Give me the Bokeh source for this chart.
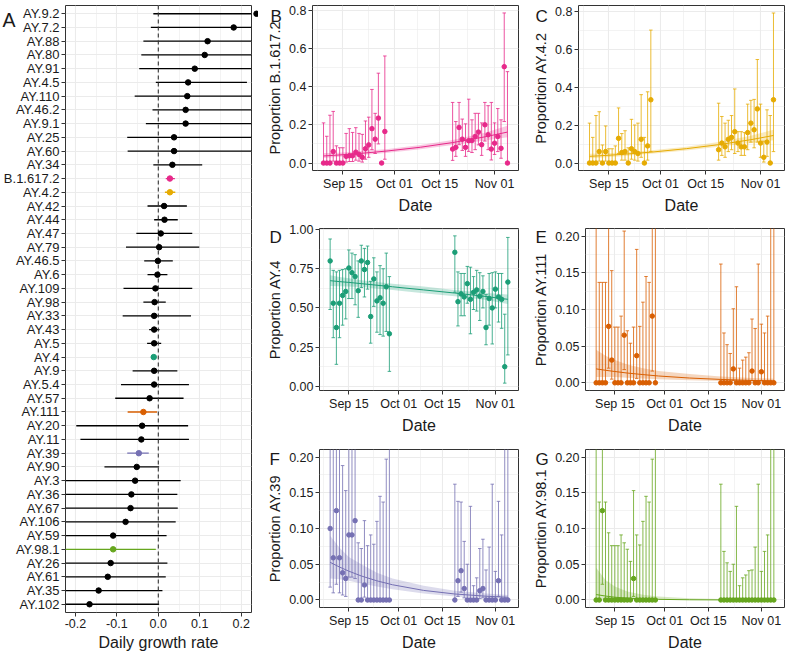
import pandas as pd
from bokeh.plotting import figure
from bokeh.models import (FactorRange, Range1d, FixedTicker, PrintfTickFormatter,
                          DatetimeTickFormatter, Span, ColumnDataSource)
from bokeh.core.properties import value
from bokeh.layouts import row, column
from bokeh.embed import file_html
from bokeh.resources import INLINE

FONT = "Liberation Sans"
TXT = "#1a1a1a"
GRID = "#EBEBEB"
EDGE = "#333333"
TICK_SIZE = "12.5px"
XTITLE_SIZE = "16px"
YTITLE_SIZE = "14.5px"

# ---------------- Panel A data ----------------
lineages = ["AY.9.2", "AY.7.2", "AY.88", "AY.80", "AY.91", "AY.4.5", "AY.110", "AY.46.2",
            "AY.9.1", "AY.25", "AY.60", "AY.34", "B.1.617.2", "AY.4.2", "AY.42", "AY.44",
            "AY.47", "AY.79", "AY.46.5", "AY.6", "AY.109", "AY.98", "AY.33", "AY.43", "AY.5",
            "AY.4", "AY.9", "AY.5.4", "AY.57", "AY.111", "AY.20", "AY.11", "AY.39", "AY.90",
            "AY.3", "AY.36", "AY.67", "AY.106", "AY.59", "AY.98.1", "AY.26", "AY.61", "AY.35",
            "AY.102"]
growth_rate = [0.237, 0.182, 0.119, 0.112, 0.088, 0.072, 0.070, 0.066, 0.066, 0.038, 0.038,
               0.034, 0.028, 0.028, 0.014, 0.015, 0.006, 0.002, -0.001, -0.002, -0.007, -0.009,
               -0.010, -0.010, -0.010, -0.011, -0.010, -0.010, -0.021, -0.036, -0.039, -0.041,
               -0.047, -0.052, -0.056, -0.065, -0.067, -0.079, -0.109, -0.109, -0.115, -0.122,
               -0.144, -0.166]
growth_lo = [-0.012, -0.018, -0.036, -0.041, -0.046, -0.006, -0.057, -0.014, -0.030, -0.075,
             -0.074, -0.012, 0.018, 0.016, -0.026, -0.010, -0.053, -0.078, -0.034, -0.026,
             -0.084, -0.036, -0.086, -0.022, -0.027, -0.016, -0.062, -0.090, -0.104, -0.074,
             -0.198, -0.188, -0.075, -0.130, -0.5, -0.5, -0.5, -0.5, -0.5, -0.5, -0.5, -0.5,
             -0.5, -0.5]
growth_hi = [0.6, 0.6, 0.5, 0.5, 0.5, 0.214, 0.5, 0.5, 0.5, 0.5, 0.5, 0.106, 0.040, 0.041,
             0.069, 0.047, 0.082, 0.099, 0.035, 0.022, 0.082, 0.018, 0.079, 0.003, 0.007, -0.006,
             0.046, 0.074, 0.061, -0.003, 0.072, 0.074, -0.023, 0.002, 0.054, 0.046, 0.047,
             0.042, 0.020, -0.006, 0.022, 0.018, 0.010, 0.002]
highlight_colors = {"B.1.617.2": "#E7298A", "AY.4.2": "#E6AB02", "AY.4": "#1B9E77",
                    "AY.111": "#D95F02", "AY.39": "#7570B3", "AY.98.1": "#66A61E"}
growth_ticks = [-0.2, -0.1, 0.0, 0.1, 0.2]
growth_minor = [-0.15, -0.05, 0.05, 0.15]
growth_start, growth_end = -0.224, 0.225

# ---------------- Panels B-G data ----------------
sample_dates = (list(pd.date_range("2021-09-09", "2021-09-28", freq="D")) +
                list(pd.date_range("2021-10-19", "2021-11-05", freq="D")))
fit_dates = [pd.Timestamp(s) for s in ["2021-09-09", "2021-09-12", "2021-09-15", "2021-09-19",
                                       "2021-09-24", "2021-09-29", "2021-10-09", "2021-10-19",
                                       "2021-10-29", "2021-11-05"]]
date_ticks = [pd.Timestamp(s) for s in ["2021-09-15", "2021-10-01", "2021-10-15", "2021-11-01"]]
date_minor = [pd.Timestamp(s) for s in ["2021-09-07", "2021-09-23", "2021-10-08",
                                        "2021-10-23 12:00"]]
date_start = pd.Timestamp("2021-09-05 14:00")
date_end = pd.Timestamp("2021-11-08 10:00")


def ms(t):
    return int(t.timestamp() * 1000)


# B: B.1.617.2
b_pt = [0, 0, 0, 0.06, 0, 0, 0, 0.035, 0.038, 0.038, 0.057, 0.045, 0.03, 0.075, 0.095, 0.18,
        0.125, 0.235, 0, 0.165,
        0.073, 0.082, 0.186, 0.125, 0.082, 0.117, 0.118, 0.139, 0.162, 0.096, 0.2, 0.148,
        0.073, 0.104, 0.139, 0.077, 0.504, 0]
b_lo = [0, 0, 0, 0.01, 0, 0, 0, 0.005, 0.008, 0.008, 0.015, 0.01, 0.005, 0.02, 0.03, 0.07,
        0.05, 0.1, 0, 0.02,
        0.014, 0.035, 0.096, 0.066, 0.035, 0.061, 0.055, 0.07, 0.095, 0.04, 0.115, 0.07,
        0.016, 0.045, 0.06, 0.025, 0.217, 0]
b_hi = [0.21, 0.14, 0.25, 0.27, 0.09, 0.08, 0.08, 0.155, 0.18, 0.16, 0.185, 0.155, 0.15,
        0.22, 0.24, 0.385, 0.26, 0.47, 0.0, 0.56,
        0.317, 0.217, 0.317, 0.23, 0.205, 0.334, 0.226, 0.26, 0.26, 0.21, 0.317, 0.30, 0.317,
        0.21, 0.285, 0.226, 0.785, 0.478]
b_fit = [0.037, 0.0401, 0.0435, 0.0486, 0.0556, 0.0635, 0.0826, 0.107, 0.137, 0.162]
b_fit_lo = [0.026, 0.030, 0.034, 0.039, 0.046, 0.054, 0.072, 0.094, 0.118, 0.135]
b_fit_hi = [0.052, 0.053, 0.055, 0.060, 0.067, 0.074, 0.094, 0.121, 0.158, 0.195]

# C: AY.4.2
c_pt = [0, 0, 0, 0.06, 0, 0.06, 0, 0, 0, 0.13, 0.055, 0.06, 0, 0.075, 0.06, 0.05, 0.125, 0,
        0.09, 0.333,
        0.07, 0.105, 0.085, 0.125, 0.135, 0.165, 0.105, 0.085, 0.085, 0.16, 0.21, 0.175, 0.285,
        0.105, 0.03, 0.11, 0, 0.333]
c_lo = [0, 0, 0, 0.01, 0, 0.01, 0, 0, 0, 0.05, 0.015, 0.015, 0, 0.02, 0.015, 0.01, 0.03, 0,
        0.015, 0.06,
        0.015, 0.04, 0.03, 0.06, 0.07, 0.05, 0.06, 0.04, 0.04, 0.07, 0.11, 0.08, 0.11, 0.03,
        0.005, 0.035, 0, 0.06]
c_hi = [0.21, 0.135, 0.25, 0.27, 0.095, 0.195, 0.075, 0.075, 0.09, 0.29, 0.155, 0.17, 0.08,
        0.23, 0.20, 0.21, 0.36, 0.135, 0.375, 0.70,
        0.315, 0.245, 0.21, 0.225, 0.25, 0.39, 0.165, 0.165, 0.16, 0.31, 0.33, 0.335, 0.545,
        0.31, 0.115, 0.28, 0.25, 0.79]
c_fit = [0.035, 0.0378, 0.0409, 0.0453, 0.0516, 0.0586, 0.0754, 0.0965, 0.1227, 0.145]
c_fit_lo = [0.025, 0.028, 0.032, 0.036, 0.043, 0.050, 0.066, 0.085, 0.105, 0.12]
c_fit_hi = [0.049, 0.050, 0.052, 0.056, 0.061, 0.068, 0.086, 0.11, 0.143, 0.175]

# D: AY.4
d_pt = [0.80, 0.53, 0.375, 0.53, 0.58, 0.605, 0.755, 0.725, 0.70, 0.61, 0.80, 0.745, 0.79,
        0.445, 0.685, 0.545, 0.565, 0.53, 0.635, 0.335,
        0.855, 0.54, 0.59, 0.57, 0.655, 0.555, 0.60, 0.615, 0.575, 0.605, 0.375, 0.56, 0.50,
        0.62, 0.57, 0.555, 0.125, 0.665]
d_lo = [0.49, 0.31, 0.14, 0.31, 0.39, 0.43, 0.56, 0.56, 0.52, 0.44, 0.63, 0.57, 0.62, 0.275,
        0.51, 0.345, 0.33, 0.32, 0.35, 0.095,
        0.60, 0.385, 0.45, 0.45, 0.53, 0.335, 0.49, 0.48, 0.42, 0.50, 0.265, 0.39, 0.27, 0.50,
        0.41, 0.37, 0.02, 0.20]
d_hi = [0.94, 0.74, 0.73, 0.74, 0.745, 0.75, 0.87, 0.85, 0.84, 0.80, 0.90, 0.88, 0.895, 0.67,
        0.82, 0.73, 0.77, 0.75, 0.85, 0.70,
        0.96, 0.73, 0.72, 0.72, 0.765, 0.76, 0.70, 0.74, 0.725, 0.705, 0.585, 0.72, 0.725,
        0.73, 0.72, 0.72, 0.46, 0.95]
d_fit = [0.674, 0.668, 0.663, 0.655, 0.645, 0.635, 0.615, 0.595, 0.573, 0.555]
d_fit_lo = [0.640, 0.638, 0.637, 0.633, 0.624, 0.615, 0.593, 0.575, 0.551, 0.525]
d_fit_hi = [0.708, 0.698, 0.689, 0.677, 0.666, 0.655, 0.637, 0.615, 0.595, 0.585]

# E: AY.111
e_pt = [0, 0, 0, 0, 0.077, 0.031, 0, 0, 0, 0.065, 0, 0, 0, 0.037, 0, 0, 0, 0, 0.091, 0,
        0, 0, 0, 0, 0.019, 0, 0, 0, 0, 0, 0.016, 0, 0, 0.015, 0, 0, 0, 0]
e_lo = [0, 0, 0, 0, 0.02, 0.005, 0, 0, 0, 0.018, 0, 0, 0, 0.006, 0, 0, 0, 0, 0.016, 0,
        0, 0, 0, 0, 0.003, 0, 0, 0, 0, 0, 0.003, 0, 0, 0.003, 0, 0, 0, 0]
e_hi = [0.35, 0.137, 0.137, 0.137, 0.35, 0.153, 0.076, 0.076, 0.091, 0.207, 0.071, 0.054,
        0.076, 0.182, 0.077, 0.110, 0.145, 0.137, 0.40, 0.45,
        0.162, 0.068, 0.052, 0.040, 0.101, 0.131, 0.020, 0.031, 0.035, 0.041, 0.087, 0.074,
        0.162, 0.080, 0.068, 0.091, 0.40, 0.40]
e_fit = [0.019, 0.0171, 0.0154, 0.0133, 0.0112, 0.0093, 0.0065, 0.0046, 0.0032, 0.0025]
e_fit_lo = [0.008, 0.008, 0.0078, 0.007, 0.006, 0.005, 0.0035, 0.0025, 0.0015, 0.001]
e_fit_hi = [0.045, 0.037, 0.031, 0.025, 0.020, 0.016, 0.012, 0.0085, 0.0065, 0.0055]

# F: AY.39
f_pt = [0.10, 0.059, 0.125, 0.059, 0.038, 0.030, 0.091, 0.091, 0.111, 0, 0, 0.021, 0, 0, 0,
        0, 0, 0, 0, 0,
        0, 0.027, 0.041, 0.016, 0, 0, 0, 0, 0.013, 0.016, 0, 0, 0, 0, 0.027, 0, 0, 0]
f_lo = [0.018, 0.01, 0.022, 0.01, 0.007, 0.005, 0.032, 0.032, 0.03, 0, 0, 0.004, 0, 0, 0, 0,
        0, 0, 0, 0,
        0, 0.005, 0.011, 0.003, 0, 0, 0, 0, 0.002, 0.003, 0, 0, 0, 0, 0.005, 0, 0, 0]
f_hi = [0.35, 0.35, 0.35, 0.35, 0.188, 0.153, 0.35, 0.35, 0.35, 0.080, 0.072, 0.111, 0.076,
        0.091, 0.078, 0.110, 0.145, 0.137, 0.197, 0.35,
        0.162, 0.138, 0.137, 0.082, 0.050, 0.131, 0.020, 0.031, 0.072, 0.085, 0.042, 0.074,
        0.162, 0.040, 0.138, 0.091, 0.35, 0.35]
f_fit = [0.0527, 0.0461, 0.0403, 0.0336, 0.0268, 0.0213, 0.0134, 0.0084, 0.0053, 0.0038]
f_fit_lo = [0.030, 0.029, 0.027, 0.023, 0.019, 0.015, 0.009, 0.005, 0.003, 0.002]
f_fit_hi = [0.090, 0.073, 0.060, 0.050, 0.038, 0.030, 0.020, 0.013, 0.009, 0.007]

# G: AY.98.1
g_pt = [0, 0, 0.125, 0, 0, 0, 0, 0, 0, 0, 0, 0, 0.030, 0, 0, 0, 0, 0, 0, 0,
        0, 0, 0, 0, 0, 0, 0, 0, 0, 0, 0, 0, 0, 0, 0, 0, 0, 0]
g_lo = [0, 0, 0.022, 0, 0, 0, 0, 0, 0, 0, 0, 0, 0.005, 0, 0, 0, 0, 0, 0, 0,
        0, 0, 0, 0, 0, 0, 0, 0, 0, 0, 0, 0, 0, 0, 0, 0, 0, 0]
g_hi = [0.35, 0.137, 0.35, 0.137, 0.094, 0.076, 0.076, 0.076, 0.091, 0.080, 0.071, 0.054,
        0.153, 0.091, 0.077, 0.110, 0.145, 0.137, 0.197, 0.35,
        0.162, 0.068, 0.052, 0.040, 0.050, 0.131, 0.020, 0.031, 0.035, 0.041, 0.042, 0.074,
        0.162, 0.040, 0.068, 0.091, 0.35, 0.35]
g_fit = [0.0076, 0.0055, 0.0039, 0.0026, 0.0015, 0.0009, 0.0003, 0.0001, 0.00003, 0.00001]
g_fit_lo = [0.0012, 0.0010, 0.0008, 0.0005, 0.0003, 0.0002, 0.00005, 0.00001, 0.0, 0.0]
g_fit_hi = [0.045, 0.028, 0.019, 0.012, 0.0075, 0.005, 0.0025, 0.0015, 0.0012, 0.001]


def style(p):
    p.outline_line_color = EDGE
    p.outline_line_width = 1
    p.background_fill_color = "white"
    p.border_fill_color = "white"
    for ax in p.axis:
        ax.axis_line_color = None
        ax.major_tick_line_color = EDGE
        ax.major_tick_line_width = 1
        ax.major_tick_out = 4
        ax.major_tick_in = 0
        ax.minor_tick_line_color = None
        ax.major_label_text_font = FONT
        ax.major_label_text_font_size = TICK_SIZE
        ax.major_label_text_color = TXT
        ax.major_label_standoff = 2
        ax.axis_label_text_font = FONT
        ax.axis_label_text_font_style = "normal"
        ax.axis_label_text_color = TXT
        ax.axis_label_standoff = 3
    for ax in p.xaxis:
        ax.axis_label_text_font_size = XTITLE_SIZE
    for ax in p.yaxis:
        ax.axis_label_text_font_size = YTITLE_SIZE
    for g in p.grid:
        g.grid_line_color = GRID
        g.grid_line_width = 1.1
        g.minor_grid_line_color = GRID
        g.minor_grid_line_width = 0.6


def letter(p, text, x, y, dx, dy, size="17px"):
    # panel tag drawn at overlay level so it can sit in the border, left of the frame
    p.text(x=[x], y=[y], text=[text], x_offset=dx, y_offset=dy, level="overlay",
           text_font=value(FONT), text_font_size=size, text_color=TXT,
           text_baseline="alphabetic", text_align="left")


# ---------------- Panel A ----------------
colors = [highlight_colors.get(l, "black") for l in lineages]
srcA = ColumnDataSource(dict(lineage=lineages, est=growth_rate, lo=growth_lo, hi=growth_hi,
                             color=colors))
pa = figure(width=258, height=653, output_backend="svg", toolbar_location=None, title=None,
            y_range=FactorRange(factors=lineages[::-1], range_padding=0.1,
                                range_padding_units="absolute"),
            x_range=Range1d(growth_start, growth_end),
            min_border_left=65, min_border_right=7, min_border_top=5, min_border_bottom=41)
pa.segment(x0="lo", y0="lineage", x1="hi", y1="lineage", source=srcA, line_color="color",
           line_width=1.3)
pa.scatter(x="est", y="lineage", source=srcA, size=5.5, fill_color="color", line_color="color",
           level="overlay")
pa.add_layout(Span(location=0, dimension="height", line_color=EDGE, line_dash="4 3",
                   line_width=1.1))
pa.xaxis.ticker = FixedTicker(ticks=growth_ticks, minor_ticks=growth_minor)
pa.xaxis.formatter = PrintfTickFormatter(format="%.1f")
pa.xaxis.axis_label = "Daily growth rate"
style(pa)
pa.yaxis.major_label_text_font_size = "13px"
letter(pa, "A", growth_start, lineages[0], -63, 6, "19.5px")


# ---------------- Panels B-G ----------------
def panel(letter_text, lineage, color, pt, lo, hi, fit, fit_lo, fit_hi, yr, yticks, yminor,
          fmt, width, height, mbl, mbt, mbb, lx, ly):
    p = figure(width=width, height=height, output_backend="svg", toolbar_location=None,
               title=None, x_axis_type="datetime",
               x_range=Range1d(date_start, date_end), y_range=Range1d(*yr),
               min_border_left=mbl, min_border_right=2, min_border_top=mbt,
               min_border_bottom=mbb)
    src = ColumnDataSource(dict(date=sample_dates, pt=pt, lo=lo, hi=hi))
    fsrc = ColumnDataSource(dict(date=fit_dates, fit=fit, lo=fit_lo, hi=fit_hi))
    p.varea(x="date", y1="lo", y2="hi", source=fsrc, fill_color=color, fill_alpha=0.25)
    p.line(x="date", y="fit", source=fsrc, line_color=color, line_width=1)
    p.segment(x0="date", y0="lo", x1="date", y1="hi", source=src, line_color=color,
              line_alpha=0.8, line_width=1)
    p.scatter(x="date", y="hi", source=src, marker="dash", size=3.5, line_color=color,
              line_alpha=0.8)
    p.scatter(x="date", y="lo", source=src, marker="dash", size=3.5, line_color=color,
              line_alpha=0.8)
    p.scatter(x="date", y="pt", source=src, size=4.5, fill_color=color, line_color=color)
    p.xaxis.ticker = FixedTicker(ticks=[ms(t) for t in date_ticks],
                                 minor_ticks=[ms(t) for t in date_minor])
    fmt_d = "%b %d"
    p.xaxis.formatter = DatetimeTickFormatter(days=fmt_d, months=fmt_d, years=fmt_d,
                                              hours=fmt_d, minutes=fmt_d)
    p.xaxis.axis_label = "Date"
    p.yaxis.ticker = FixedTicker(ticks=yticks, minor_ticks=yminor)
    p.yaxis.formatter = PrintfTickFormatter(format=fmt)
    p.yaxis.axis_label = "Proportion " + lineage
    style(p)
    letter(p, letter_text, ms(date_start), yr[1], lx, ly)
    return p


t_big = [0.0, 0.2, 0.4, 0.6, 0.8]
m_big = [0.1, 0.3, 0.5, 0.7]
t_d = [0.0, 0.25, 0.5, 0.75, 1.0]
m_d = [0.125, 0.375, 0.625, 0.875]
t_small = [0.0, 0.05, 0.10, 0.15, 0.20]
m_small = [0.025, 0.075, 0.125, 0.175]

pb = panel("B", "B.1.617.2", "#E7298A", b_pt, b_lo, b_hi, b_fit, b_fit_lo, b_fit_hi,
           (-0.039, 0.824), t_big, m_big, "%.1f", 262, 218, 54, 5, 48, -42, 11)
pc = panel("C", "AY.4.2", "#E6AB02", c_pt, c_lo, c_hi, c_fit, c_fit_lo, c_fit_hi,
           (-0.0395, 0.8295), t_big, m_big, "%.1f", 266, 218, 58, 5, 48, -43, 11)
pd_ = panel("D", "AY.4", "#1B9E77", d_pt, d_lo, d_hi, d_fit, d_fit_lo, d_fit_hi,
            (-0.027, 1.007), t_d, m_d, "%.2f", 262, 218, 61, 10, 44, -50, 9)
pe = panel("E", "AY.111", "#D95F02", e_pt, e_lo, e_hi, e_fit, e_fit_lo, e_fit_hi,
           (-0.0105, 0.2105), t_small, m_small, "%.2f", 266, 218, 65, 10, 44, -50, 9)
pf = panel("F", "AY.39", "#7570B3", f_pt, f_lo, f_hi, f_fit, f_fit_lo, f_fit_hi,
           (-0.0105, 0.2105), t_small, m_small, "%.2f", 262, 217, 61, 13, 41, -50, 10)
pg = panel("G", "AY.98.1", "#66A61E", g_pt, g_lo, g_hi, g_fit, g_fit_lo, g_fit_hi,
           (-0.0105, 0.2105), t_small, m_small, "%.2f", 266, 217, 65, 13, 41, -50, 10)

layout = row(pa, column(row(pb, pc), row(pd_, pe), row(pf, pg)))
open("out.html", "w").write(file_html(layout, INLINE))
